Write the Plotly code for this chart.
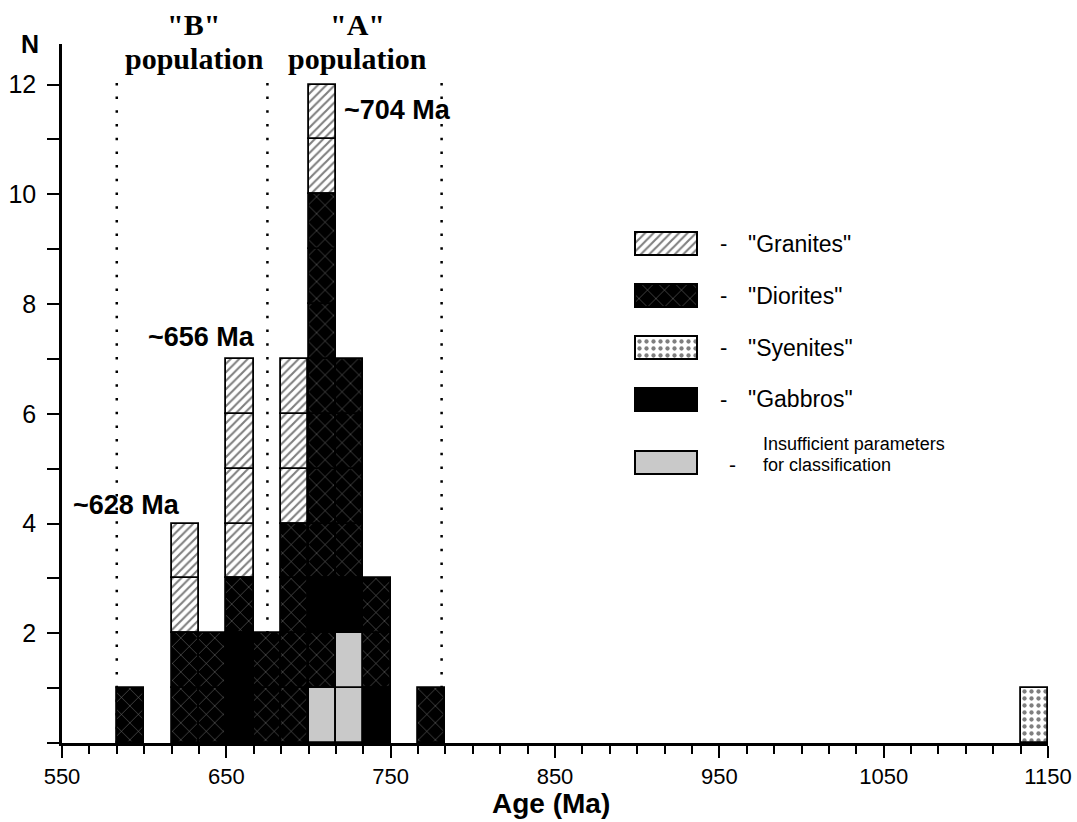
import plotly.graph_objects as go

# ---------------- data ----------------
BIN_WIDTH = 50.0 / 3.0          # Ma per histogram bin
bin_left = [583.33, 616.67, 633.33, 650.0, 666.67, 683.33, 700.0,
            716.67, 733.33, 766.67, 1133.33]
# stack of unit cells (bottom -> top) in every bin
stacks = [
    ["D"],
    ["D", "D", "Gr", "Gr"],
    ["D", "D"],
    ["Gb", "Gb", "D", "Gr", "Gr", "Gr", "Gr"],
    ["D", "D"],
    ["D", "D", "D", "D", "Gr", "Gr", "Gr"],
    ["I", "D", "Gb", "D", "D", "D", "D", "D", "D", "D", "Gr", "Gr"],
    ["I", "I", "Gb", "D", "D", "D", "D"],
    ["Gb", "D", "D"],
    ["D"],
    ["S"],
]
categories = ["Gr", "D", "S", "Gb", "I"]
category_labels = ['"Granites"', '"Diorites"', '"Syenites"', '"Gabbros"',
                   "Insufficient parameters|for classification"]
dotted_lines = [583.33, 675.0, 781.0]
peak_labels = ["~628 Ma", "~656 Ma", "~704 Ma"]
population_labels = ['"B"', '"A"']
x_ticks = [550, 650, 750, 850, 950, 1050, 1150]
y_ticks = [2, 4, 6, 8, 10, 12]

# ---------------- styles ----------------
styles = {
    "Gr": dict(color="white", pattern=dict(shape="/", bgcolor="white", fgcolor="black",
                                             size=6, solidity=0.35)),
    "D": dict(color="black", pattern=dict(shape="x", bgcolor="black", fgcolor="white",
                                            size=12, solidity=0.08)),
    "S": dict(color="white", pattern=dict(shape=".", bgcolor="white", fgcolor="black",
                                            size=7, solidity=0.3)),
    "Gb": dict(color="black"),
    "I": dict(color="#c9c9c9"),
}

SANS = "Liberation Sans, Arial, sans-serif"
SERIF = "Liberation Serif, Times New Roman, serif"

W_FIG, H_FIG = 1077, 822
L, R, T, B = 62, 29, 44, 79
PW, PH = W_FIG - L - R, H_FIG - T - B
Y_MAX = 12.74


def paper(xp, yp):
    return (xp - L) / PW, (H_FIG - B - yp) / PH


fig = go.Figure()

# histogram cells
for cat in categories:
    xs, bases = [], []
    for left, stack in zip(bin_left, stacks):
        for level, c in enumerate(stack):
            if c == cat:
                xs.append(left + BIN_WIDTH / 2)
                bases.append(level)
    if not xs:
        continue
    st = styles[cat]
    marker = dict(color=st["color"], line=dict(color="black", width=1.8))
    if "pattern" in st:
        marker["pattern"] = st["pattern"]
    fig.add_trace(go.Bar(x=xs, y=[1] * len(xs), base=bases, width=BIN_WIDTH,
                         marker=marker, showlegend=False, hoverinfo="skip",
                         xaxis="x", yaxis="y"))

# legend swatches on a pixel-coordinate overlay axis
swatch_y = [232, 284, 336, 388, 451]
for cat, sy in zip(categories, swatch_y):
    st = styles[cat]
    marker = dict(color=st["color"], line=dict(color="black", width=2))
    if "pattern" in st:
        marker["pattern"] = st["pattern"]
    fig.add_trace(go.Bar(x=[666], y=[23], base=[sy], width=62, marker=marker,
                         showlegend=False, hoverinfo="skip", xaxis="x2", yaxis="y2"))

# dotted population boundaries
for xv in dotted_lines:
    fig.add_shape(type="line", x0=xv, x1=xv, y0=0, y1=12.2, xref="x", yref="y",
                  layer="below", line=dict(color="black", width=2.5, dash="2.5px,11.2px"))

ann = []


def add_text(text, xp, yp, size, family, bold=False, xanchor="center"):
    px_, py_ = paper(xp, yp)
    ann.append(dict(text=text, x=px_, y=py_, xref="paper", yref="paper",
                    xanchor=xanchor, yanchor="middle", showarrow=False,
                    font=dict(size=size, family=family, color="black",
                              weight="bold" if bold else "normal")))


# population headers
add_text(population_labels[0], 193, 25, 30, SERIF, True)
add_text("population", 194, 59, 30, SERIF, True)
add_text(population_labels[1], 357, 25, 30, SERIF, True)
add_text("population", 357, 59, 30, SERIF, True)

# peak labels
add_text(peak_labels[0], 126, 505, 27, SANS, True)
add_text(peak_labels[1], 201, 337, 27, SANS, True)
add_text(peak_labels[2], 397, 110, 27, SANS, True)

# axis titles
add_text("N", 30, 44, 25, SANS, True)
add_text("Age (Ma)", 551, 803, 28, SANS, True)

# legend labels
for lab, sy, cat in zip(category_labels, swatch_y, categories):
    cy = sy + 11.5
    if cat == "I":
        line1, line2 = lab.split("|")
        add_text("-", 732, cy + 2, 21, SANS)
        add_text(line1, 761, 444, 18, SANS, xanchor="left")
        add_text(line2, 761, 465, 18, SANS, xanchor="left")
    else:
        add_text("-", 723, cy, 22, SANS)
        add_text(lab, 746, cy, 23, SANS, xanchor="left")

fig.update_layout(
    width=W_FIG, height=H_FIG,
    margin=dict(l=L, r=R, t=T, b=B, pad=0, autoexpand=False),
    paper_bgcolor="white", plot_bgcolor="white",
    barmode="overlay", bargap=0,
    showlegend=False,
    annotations=ann,
    xaxis=dict(range=[550, 1150], tickvals=x_ticks, ticks="outside", ticklen=12,
               tickwidth=2, tickcolor="black", showline=True, linecolor="black",
               linewidth=2.5, showgrid=False, zeroline=False, automargin=False,
               tickfont=dict(family=SANS, size=22, color="black"),
               minor=dict(tickvals=[550 + i * BIN_WIDTH for i in range(37)],
                          ticks="outside", ticklen=8, tickwidth=2, tickcolor="black",
                          showgrid=False)),
    yaxis=dict(range=[0, Y_MAX], tickvals=y_ticks, ticks="outside", ticklen=12,
               tickwidth=2, tickcolor="black", showline=True, linecolor="black",
               linewidth=2.5, showgrid=False, zeroline=False, automargin=False,
               tickfont=dict(family=SANS, size=25, color="black"),
               ticklabelstandoff=6,
               minor=dict(tickvals=list(range(0, 13)), ticks="outside", ticklen=12,
                          tickwidth=2, tickcolor="black", showgrid=False)),
    xaxis2=dict(range=[L, L + PW], domain=[0, 1], anchor="y2", overlaying="x",
                visible=False, fixedrange=True, automargin=False),
    yaxis2=dict(range=[H_FIG - B, T], domain=[0, 1], anchor="x2", overlaying="y",
                visible=False, fixedrange=True, automargin=False),
)

fig.write_html("out.html")
